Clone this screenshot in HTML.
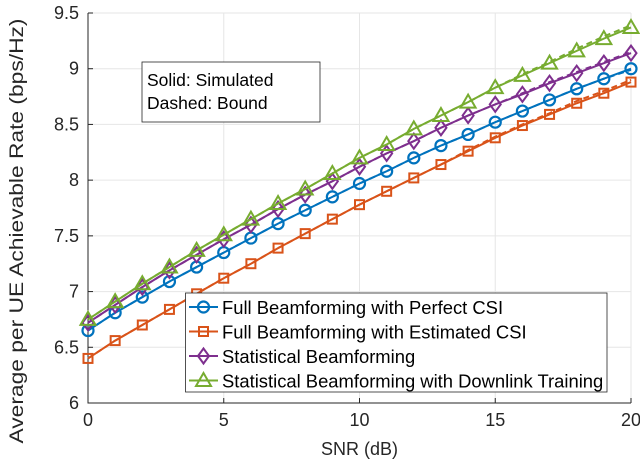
<!DOCTYPE html>
<html><head><meta charset="utf-8"><style>
body{margin:0;background:#fff;font-family:"Liberation Sans",sans-serif}
</style></head><body>
<svg id="c" width="640" height="463" xmlns="http://www.w3.org/2000/svg" font-family="Liberation Sans, sans-serif"></svg>
<script>
const snr=[0,1,2,3,4,5,6,7,8,9,10,11,12,13,14,15,16,17,18,19,20];
const perfect=[6.65,6.81,6.95,7.09,7.22,7.35,7.48,7.61,7.73,7.85,7.97,8.08,8.2,8.31,8.41,8.52,8.62,8.72,8.82,8.91,9.0];
const perfectBound=[6.65,6.81,6.95,7.09,7.22,7.35,7.48,7.61,7.73,7.85,7.97,8.08,8.2,8.31,8.41,8.52,8.62,8.72,8.82,8.91,8.99];
const estimated=[6.4,6.56,6.7,6.84,6.98,7.12,7.25,7.39,7.52,7.65,7.78,7.9,8.02,8.14,8.26,8.38,8.49,8.59,8.69,8.78,8.88];
const estimatedBound=[6.4,6.56,6.7,6.84,6.98,7.12,7.25,7.39,7.52,7.65,7.78,7.9,8.02,8.14,8.27,8.39,8.5,8.6,8.71,8.8,8.9];
const statistical=[6.72,6.88,7.04,7.19,7.33,7.47,7.6,7.74,7.87,7.99,8.12,8.24,8.35,8.47,8.58,8.68,8.77,8.87,8.96,9.05,9.14];
const statisticalBound=[6.72,6.88,7.04,7.19,7.33,7.47,7.6,7.74,7.87,7.99,8.12,8.24,8.35,8.47,8.58,8.68,8.78,8.88,8.97,9.06,9.15];
const training=[6.75,6.91,7.07,7.22,7.37,7.51,7.65,7.79,7.92,8.06,8.2,8.32,8.46,8.58,8.7,8.83,8.94,9.05,9.16,9.27,9.37];
const trainingBound=[6.75,6.91,7.07,7.22,7.37,7.51,7.65,7.79,7.92,8.06,8.2,8.32,8.46,8.58,8.7,8.83,8.95,9.06,9.18,9.29,9.39];
const xTicks=[0,5,10,15,20];
const yTicks=[6,6.5,7,7.5,8,8.5,9,9.5];
const legendLabels=["Full Beamforming with Perfect CSI","Full Beamforming with Estimated CSI","Statistical Beamforming","Statistical Beamforming with Downlink Training"];

const L=88,R=631,T=13,B=403;
const xs=v=>L+(v-0)/20*(R-L);
const ys=v=>B-(v-6)/3.5*(B-T);
const svg=document.getElementById('c');
const NS="http://www.w3.org/2000/svg";
function mk(tag,attrs,parent){const e=document.createElementNS(NS,tag);for(const k in attrs)e.setAttribute(k,attrs[k]);(parent||svg).appendChild(e);return e;}

xTicks.forEach(t=>{const g=mk('line',{x1:xs(t),x2:xs(t),y1:T,y2:B,stroke:'#e6e6e6','stroke-width':1});

});
yTicks.forEach(t=>{const g=mk('line',{x1:L,x2:R,y1:ys(t),y2:ys(t),stroke:'#e6e6e6','stroke-width':1});

});
const ax=mk('path',{d:`M${L} ${T}V${B}H${R}`,fill:'none',stroke:'#262626','stroke-width':1});


xTicks.forEach(t=>{mk('line',{x1:xs(t),x2:xs(t),y1:B,y2:B-5,stroke:'#262626'});
const tx=mk('text',{x:xs(t),y:B+23,'text-anchor':'middle','font-size':18,fill:'#262626'});tx.textContent=t;

});
yTicks.forEach(t=>{mk('line',{x1:L,x2:L+5,y1:ys(t),y2:ys(t),stroke:'#262626'});
const tx=mk('text',{x:L-9,y:ys(t)+6,'text-anchor':'end','font-size':18,fill:'#262626'});tx.textContent=t;

});
const xl=mk('text',{x:(L+R)/2,y:455,'text-anchor':'middle','font-size':18,fill:'#262626'});xl.textContent='SNR (dB)';


const yl=mk('text',{x:0,y:0,transform:`translate(23,231) rotate(-90)`,'text-anchor':'middle','font-size':19,textLength:425,lengthAdjust:'spacingAndGlyphs',fill:'#262626'});yl.textContent='Average per UE Achievable Rate (bps/Hz)';



function marker(type,x,y,col,p){
 if(type==='o')return mk('circle',{cx:x,cy:y,r:5.5,fill:'none',stroke:col,'stroke-width':2.2},p);
 if(type==='s')return mk('rect',{x:x-4.5,y:y-4.5,width:9,height:9,fill:'none',stroke:col,'stroke-width':2},p);
 if(type==='d')return mk('path',{d:`M${x} ${y-7.5}L${x+5.5} ${y}L${x} ${y+7.5}L${x-5.5} ${y}Z`,fill:'none',stroke:col,'stroke-width':2},p);
 return mk('path',{d:`M${x} ${y-7.5}L${x+7.5} ${y+5.5}L${x-7.5} ${y+5.5}Z`,fill:'none',stroke:col,'stroke-width':2},p);
}
const series=[[perfect,perfectBound,'#0072bd','o','series-perfect-csi'],[estimated,estimatedBound,'#d95319','s','series-estimated-csi'],[statistical,statisticalBound,'#7e2f8e','d','series-statistical'],[training,trainingBound,'#77ac30','^','series-downlink-training']];
series.forEach(([sim,bd,col,m,name])=>{
 const g=mk('g',{});
 
 
 const d1=sim.map((v,i)=>(i?'L':'M')+xs(snr[i])+' '+ys(v)).join('');
 const d2=bd.map((v,i)=>(i?'L':'M')+xs(snr[i])+' '+ys(v)).join('');
 const l2=mk('path',{d:d2,fill:'none',stroke:col,'stroke-width':2,'stroke-dasharray':'6 4'},g);
 
 
 const l1=mk('path',{d:d1,fill:'none',stroke:col,'stroke-width':2},g);
 
 
 sim.forEach((v,i)=>{const mm=marker(m,xs(snr[i]),ys(v),col,g);
 
 });
});

const nb=mk('g',{});


mk('rect',{x:142,y:62,width:178,height:60,fill:'#fff',stroke:'#262626','stroke-width':0.8},nb);
let t1=mk('text',{x:147,y:86,'font-size':17.5,fill:'#000'},nb);t1.textContent='Solid: Simulated';
let t2=mk('text',{x:147,y:109,'font-size':17.5,fill:'#000'},nb);t2.textContent='Dashed: Bound';

const lg=mk('g',{});


mk('rect',{x:185.5,y:293,width:421.5,height:99,fill:'#fff',stroke:'#262626','stroke-width':0.8},lg);
series.forEach((s,i)=>{
 const y=307+i*24.5;
 const e=mk('g',{},lg);
 
 
 mk('line',{x1:189,x2:218,y1:y,y2:y,stroke:s[2],'stroke-width':2},e);
 marker(s[3],203.5,y,s[2],e);
 const tx=mk('text',{x:222,y:y+7,'font-size':18.4,fill:'#000'},e);tx.textContent=legendLabels[i];
});
</script>
</body></html>
